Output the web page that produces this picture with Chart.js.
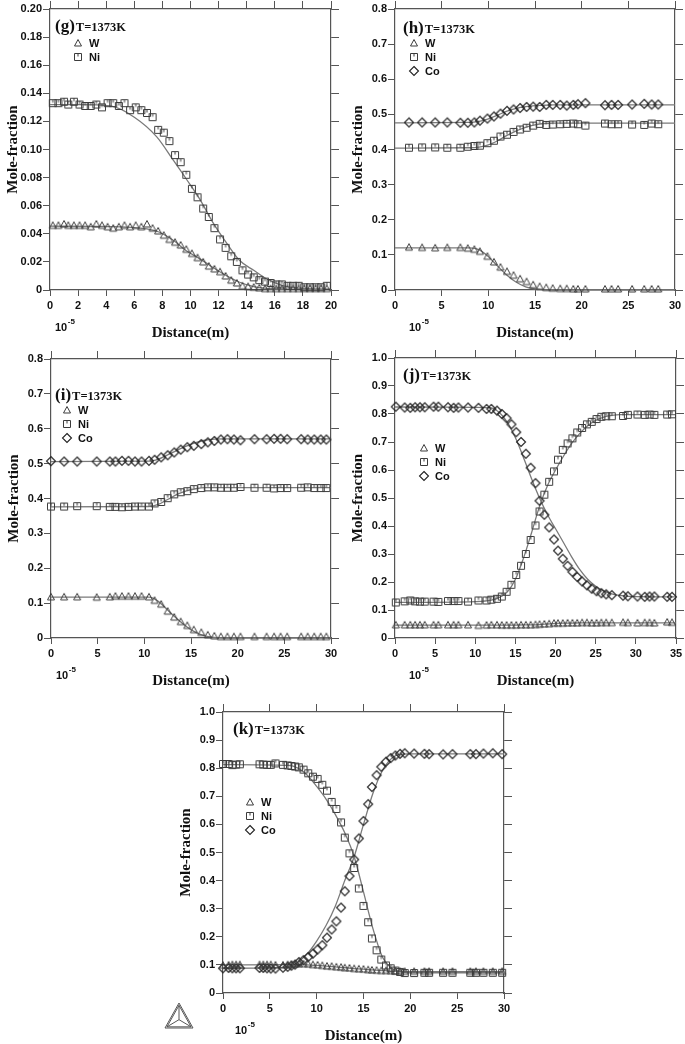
<!DOCTYPE html>
<html>
<head>
<meta charset="utf-8">
<script src="https://cdn.jsdelivr.net/npm/chart.js@4.4.1/dist/chart.umd.min.js"></script>
<style>
html, body { margin: 0; padding: 0; background: #fff; width: 685px; height: 1044px; overflow: hidden; position: relative; }
canvas { position: absolute; }
</style>
</head>
<body>
<canvas id="cg"></canvas>
<canvas id="ch"></canvas>
<canvas id="ci"></canvas>
<canvas id="cj"></canvas>
<canvas id="ck"></canvas>
<script>
// ---- (g) W / Ni ----
const g_dist = [0.2, 0.6, 1.0, 1.3, 1.7, 2.1, 2.5, 2.9, 3.3, 3.7, 4.1, 4.5, 4.9, 5.3, 5.7, 6.1, 6.5, 6.9, 7.3, 7.7, 8.1, 8.5, 8.9, 9.3, 9.7, 10.1, 10.5, 10.9, 11.3, 11.7, 12.1, 12.5, 12.9, 13.3, 13.7, 14.1, 14.5, 14.9, 15.3, 15.7, 16.1, 16.5, 16.9, 17.3, 17.7, 18.1, 18.5, 18.9, 19.3, 19.7];
const g_Ni = [.133, .133, .134, .132, .134, .132, .131, .131, .132, .130, .133, .133, .131, .133, .128, .130, .128, .126, .123, .114, .112, .106, .096, .091, .082, .072, .066, .058, .052, .044, .036, .030, .024, .020, .014, .011, .009, .007, .006, .005, .004, .004, .003, .003, .003, .002, .002, .002, .002, .003];
const g_W = [.046, .046, .047, .046, .046, .046, .046, .045, .047, .046, .045, .044, .045, .046, .045, .046, .045, .047, .044, .042, .039, .036, .034, .032, .029, .026, .023, .020, .017, .015, .013, .010, .007, .005, .003, .0025, .002, .0015, .001, .001, .001, .001, .001, .001, .001, .001, .001, .001, .001, .001];
const g_fitNiX = [0, 2, 4.3, 6, 7.6, 8.8, 9.7, 10.7, 11.6, 12.6, 13.5, 14.5, 15.4, 16.6, 17.8, 20];
const g_fitNi = [.132, .132, .131, .123, .109, .092, .079, .064, .048, .033, .021, .014, .008, .003, .0014, .0005];
const g_fitWX = [0, 4, 6.9, 7.8, 8.8, 9.7, 10.7, 11.6, 12.6, 13.5, 14.5, 15.4, 17, 20];
const g_fitW = [.0454, .0452, .0435, .0411, .0352, .028, .022, .016, .010, .0055, .0024, .0012, .0005, .0002];

// ---- (h) W / Ni / Co ----
const h_dist = [1.5, 2.9, 4.3, 5.6, 7.0, 7.8, 8.5, 9.1, 9.9, 10.6, 11.3, 12.0, 12.7, 13.4, 14.1, 14.8, 15.5, 16.2, 16.9, 17.7, 18.4, 19.1, 19.6, 20.4, 22.5, 23.2, 23.9, 25.4, 26.7, 27.5, 28.2];
const h_W = [.122, .121, .120, .121, .121, .119, .116, .110, .096, .080, .065, .053, .042, .032, .024, .015, .010, .007, .005, .004, .004, .003, .003, .003, .003, .003, .003, .003, .003, .003, .003];
const h_Ni = [.405, .406, .406, .405, .405, .408, .410, .411, .418, .425, .437, .442, .450, .457, .462, .468, .473, .470, .471, .472, .473, .474, .472, .468, .474, .472, .472, .471, .470, .474, .472];
const h_Co = [.477, .477, .477, .477, .476, .476, .477, .482, .488, .494, .502, .510, .514, .518, .521, .522, .521, .527, .527, .527, .525, .527, .529, .532, .526, .527, .527, .528, .530, .528, .528];
const h_fitX = [0, 8, 9, 10, 11, 12, 13, 14, 15, 16, 17, 18, 20, 30];
const h_fitW = [.120, .120, .115, .095, .068, .042, .022, .009, .003, .001, 0, 0, 0, 0];
const h_fitNi = [.404, .405, .407, .413, .425, .440, .453, .463, .470, .474, .475, .475, .475, .475];
const h_fitCo = [.476, .477, .480, .487, .498, .509, .517, .522, .525, .526, .527, .527, .527, .527];

// ---- (i) W / Ni / Co ----
const i_dist = [0, 1.4, 2.8, 4.9, 6.3, 6.9, 7.6, 8.3, 9.0, 9.7, 10.5, 11.1, 11.8, 12.5, 13.2, 13.9, 14.6, 15.3, 16.1, 16.8, 17.5, 18.2, 18.9, 19.6, 20.3, 21.8, 23.1, 23.9, 24.6, 25.3, 26.8, 27.5, 28.2, 28.9, 29.5];
const i_W = [.118, .118, .118, .117, .118, .120, .120, .120, .120, .120, .118, .108, .097, .077, .060, .047, .036, .024, .016, .009, .006, .004, .004, .004, .004, .004, .004, .004, .004, .004, .004, .004, .004, .004, .004];
const i_Ni = [.377, .377, .378, .378, .376, .376, .375, .376, .377, .377, .377, .386, .390, .401, .412, .418, .421, .427, .430, .432, .432, .431, .431, .431, .433, .431, .431, .429, .430, .430, .431, .432, .430, .430, .430];
const i_Co = [.507, .506, .506, .506, .506, .506, .508, .508, .506, .506, .508, .511, .518, .524, .532, .540, .547, .551, .556, .561, .565, .569, .570, .569, .567, .570, .570, .571, .571, .570, .570, .569, .569, .569, .569];
const i_fitX = [0, 10.5, 11.5, 12.5, 13.5, 14.5, 15.5, 16.5, 17.5, 18.5, 30];
const i_fitW = [.117, .117, .105, .080, .055, .033, .016, .006, .002, 0, 0];
const i_fitNi = [.376, .377, .383, .397, .412, .422, .428, .431, .431, .431, .431];
const i_fitCo = [.506, .507, .513, .525, .538, .550, .560, .567, .570, .571, .571];

// ---- (j) W / Ni / Co ----
const j_dist = [0.1, 1.2, 1.9, 2.5, 3.1, 3.7, 4.8, 5.4, 6.6, 7.3, 7.9, 9.1, 10.4, 11.4, 12.0, 12.7, 13.3, 13.9, 14.5, 15.1, 15.7, 16.3, 16.9, 17.5, 18.0, 18.6, 19.2, 19.8, 20.3, 20.9, 21.5, 22.1, 22.7, 23.3, 23.9, 24.5, 25.1, 25.7, 26.3, 27.0, 28.4, 29.0, 30.2, 31.1, 31.7, 32.3, 33.9, 34.5];
const j_W = [.047, .047, .047, .047, .047, .047, .047, .047, .047, .047, .047, .047, .045, .046, .047, .047, .046, .046, .046, .046, .047, .047, .047, .048, .049, .050, .051, .053, .053, .053, .054, .054, .054, .055, .055, .054, .054, .055, .055, .055, .056, .055, .054, .055, .055, .054, .057, .056];
const j_Ni = [.127, .131, .134, .131, .130, .130, .130, .129, .132, .132, .132, .130, .134, .134, .137, .140, .148, .165, .190, .225, .258, .300, .350, .402, .452, .512, .558, .595, .637, .672, .695, .713, .734, .750, .763, .772, .782, .790, .792, .792, .793, .797, .798, .797, .798, .797, .798, .799];
const j_Co = [.826, .823, .822, .824, .824, .824, .826, .826, .824, .822, .823, .823, .822, .818, .818, .812, .800, .785, .763, .735, .700, .658, .608, .553, .490, .440, .395, .352, .312, .283, .258, .236, .218, .202, .188, .176, .167, .160, .156, .153, .151, .149, .148, .147, .148, .148, .147, .147];
const j_fitX = [0, 10, 12, 13, 14, 15, 16, 17, 18, 19, 20, 21, 22, 23, 24, 25, 26, 27, 28, 29, 35];
const j_fitW = [.046, .046, .046, .046, .046, .046, .047, .047, .048, .050, .052, .053, .053, .054, .054, .054, .054, .054, .054, .054, .054];
const j_fitNi = [.127, .130, .135, .145, .165, .210, .285, .375, .470, .545, .600, .650, .695, .730, .758, .777, .789, .795, .798, .798, .798];
const j_fitCo = [.825, .824, .822, .805, .770, .715, .645, .570, .500, .440, .390, .340, .290, .245, .210, .185, .168, .158, .152, .149, .147];

// ---- (k) W / Ni / Co ----
const k_dist = [0, 0.6, 1.0, 1.4, 1.8, 3.9, 4.3, 4.7, 5.1, 5.6, 6.4, 6.9, 7.3, 7.7, 8.1, 8.6, 9.1, 9.6, 10.1, 10.6, 11.1, 11.6, 12.1, 12.6, 13.0, 13.5, 14.0, 14.5, 15.0, 15.5, 15.9, 16.4, 16.9, 17.4, 17.9, 18.4, 18.9, 19.4, 20.4, 21.5, 22.0, 23.5, 24.5, 26.4, 27.0, 27.8, 28.8, 29.8];
const k_W = [.099, .100, .101, .101, .101, .101, .101, .101, .101, .100, .100, .101, .102, .103, .104, .104, .103, .101, .100, .098, .096, .095, .093, .092, .090, .089, .087, .086, .085, .083, .082, .081, .080, .080, .079, .078, .077, .077, .077, .077, .077, .077, .077, .077, .077, .077, .077, .077];
const k_Ni = [.815, .815, .811, .813, .814, .814, .813, .812, .812, .817, .812, .810, .808, .806, .803, .795, .782, .770, .762, .741, .720, .680, .655, .607, .553, .497, .445, .372, .310, .252, .194, .152, .119, .098, .088, .080, .075, .071, .071, .072, .072, .072, .072, .072, .072, .072, .072, .072];
const k_Co = [.088, .089, .088, .088, .088, .089, .089, .088, .087, .087, .090, .093, .097, .101, .110, .117, .128, .140, .155, .170, .197, .226, .255, .304, .362, .416, .475, .550, .612, .672, .733, .775, .805, .823, .836, .845, .851, .853, .852, .851, .850, .849, .850, .850, .850, .852, .853, .850];
const k_fitX = [0, 7, 8, 9, 10, 11, 12, 13, 14, 15, 16, 17, 18, 19, 20, 30];
const k_fitW = [.100, .101, .101, .100, .098, .096, .093, .090, .087, .085, .082, .080, .078, .077, .076, .076];
const k_fitNi = [.813, .810, .800, .775, .735, .690, .635, .570, .485, .360, .230, .130, .088, .075, .072, .072];
const k_fitCo = [.088, .092, .110, .140, .185, .240, .310, .400, .485, .600, .710, .790, .835, .850, .851, .851];

const INK = '#3c3c3c';
const FIT = '#7a7a7a';

// open markers drawn once on small canvases, used as point styles
function marker(kind) {
    const c = document.createElement('canvas');
    c.width = 12; c.height = 12;
    const x = c.getContext('2d');
    x.strokeStyle = kind === 'dia' ? '#222' : INK;
    x.lineWidth = kind === 'dia' ? 1.1 : 1;
    x.beginPath();
    if (kind === 'tri') {
        x.moveTo(6, 2.5); x.lineTo(2.5, 9); x.lineTo(9.5, 9); x.closePath();
    } else if (kind === 'sq') {
        x.rect(2.5, 2.5, 7, 7);
        x.moveTo(6, 3); x.lineTo(6, 5.5);
    } else {
        x.moveTo(6, 1.5); x.lineTo(10.5, 6); x.lineTo(6, 10.5); x.lineTo(1.5, 6); x.closePath();
    }
    x.stroke();
    return c;
}
const MK = { W: marker('tri'), Ni: marker('sq'), Co: marker('dia') };

function pts(xs, ys) {
    return xs.map((x, i) => ({ x: x, y: ys[i] }));
}

function scales(ax) {
    const tickFont = { family: 'Liberation Sans', size: 11, weight: 'bold' };
    const titleFont = { family: 'Liberation Serif', size: 15, weight: 'bold' };
    const grid = len => ({ drawOnChartArea: false, color: '#555', lineWidth: 1, tickLength: len });
    const border = { display: true, color: '#555', width: 1.2 };
    return {
        x: {
            type: 'linear', position: 'bottom', min: 0, max: ax.xmax,
            grid: grid(6), border: border,
            ticks: { stepSize: ax.xstep, font: tickFont, color: '#111', padding: 3, maxRotation: 0, autoSkip: false },
            title: { display: true, text: 'Distance(m)', font: titleFont, color: '#111', padding: { top: 4, bottom: 4 } },
            afterFit: s => { s.height = 56; }
        },
        x2: {
            type: 'linear', position: 'top', min: 0, max: ax.xmax,
            grid: grid(8), border: border,
            ticks: { stepSize: ax.xstep, display: false },
            afterFit: s => { s.height = 9; }
        },
        y: {
            type: 'linear', position: 'left', min: 0, max: ax.ymax,
            grid: grid(7), border: border,
            ticks: { stepSize: ax.ystep, font: tickFont, color: '#111', padding: 1,
                callback: v => Math.abs(v) < 1e-9 ? '0' : v.toFixed(ax.ydec) },
            title: { display: true, text: 'Mole-fraction', font: titleFont, color: '#111', padding: { top: 4, bottom: 4 } },
            afterFit: s => { s.width = 50; }
        },
        y2: {
            type: 'linear', position: 'right', min: 0, max: ax.ymax,
            grid: grid(8), border: border,
            ticks: { stepSize: ax.ystep, display: false },
            afterFit: s => { s.width = 10; }
        }
    };
}

// labels, legend, 10^-5 note (and the logo on panel k)
function decoPlugin(p) {
    return {
        id: 'deco',
        afterDraw(chart) {
            const ctx = chart.ctx;
            const a = chart.chartArea;
            ctx.save();
            ctx.fillStyle = '#111';
            ctx.textBaseline = 'alphabetic';
            ctx.textAlign = 'left';
            const lx = a.left + p.lab[0], ly = a.top + p.lab[1] + 6;
            ctx.font = 'bold 17px "Liberation Serif"';
            ctx.fillText('(' + p.letter + ')', lx, ly);
            const w = ctx.measureText('(' + p.letter + ')').width;
            ctx.font = 'bold 12.5px "Liberation Serif"';
            ctx.fillText('T=1373K', lx + w + 1, ly);

            ctx.textBaseline = 'middle';
            ctx.font = 'bold 11px "Liberation Sans"';
            p.names.forEach((n, idx) => {
                const mx = a.left + p.leg[0], my = a.top + p.leg[1] + idx * 14;
                ctx.drawImage(MK[n], mx - 6, my - 6);
                ctx.fillText(n, mx + 11, my + 0.5);
            });

            const tx = a.left + p.ten, ty = a.bottom + 38;
            ctx.font = 'bold 11px "Liberation Sans"';
            ctx.fillText('10', tx, ty);
            const tw = ctx.measureText('10').width;
            ctx.font = 'bold 8px "Liberation Sans"';
            ctx.fillText('-5', tx + tw + 0.5, ty - 6);

            if (p.logo) {
                const bx = a.left, by = a.bottom;
                const A = [bx - 44, by + 10], B = [bx - 58, by + 35], C = [bx - 30, by + 35];
                const G = [(A[0] + B[0] + C[0]) / 3, (A[1] + B[1] + C[1]) / 3];
                ctx.strokeStyle = '#555';
                ctx.lineWidth = 1;
                [1, 0.86].forEach(f => {
                    ctx.beginPath();
                    [A, B, C].forEach((v, q) => {
                        const X = G[0] + (v[0] - G[0]) * f, Y = G[1] + (v[1] - G[1]) * f;
                        if (q === 0) ctx.moveTo(X, Y); else ctx.lineTo(X, Y);
                    });
                    ctx.closePath();
                    ctx.stroke();
                });
                [A, B, C].forEach(v => {
                    ctx.beginPath();
                    ctx.moveTo(G[0], G[1]);
                    ctx.lineTo(G[0] + (v[0] - G[0]) * 0.86, G[1] + (v[1] - G[1]) * 0.86);
                    ctx.stroke();
                });
            }
            ctx.restore();
        }
    };
}

function panel(id, box, ax, series, fits, p) {
    const extra = box.extra || 0;
    const cv = document.getElementById(id);
    cv.width = (box.R - box.L) + 60 + extra;
    cv.height = (box.B - box.T) + 65;
    cv.style.left = (box.L - 50 - extra) + 'px';
    cv.style.top = (box.T - 9) + 'px';

    const datasets = [];
    series.forEach(s => datasets.push({
        label: s.name,
        data: pts(s.x, s.y),
        pointStyle: MK[s.name],
        pointRadius: 5,
        showLine: false,
        clip: false
    }));
    fits.forEach(f => datasets.push({
        label: 'fit',
        data: pts(f.x, f.y),
        showLine: true,
        borderColor: FIT,
        borderWidth: 1.3,
        pointRadius: 0,
        cubicInterpolationMode: 'monotone',
        fill: false,
        clip: false
    }));

    return new Chart(cv.getContext('2d'), {
        type: 'scatter',
        data: { datasets: datasets },
        options: {
            responsive: false,
            animation: false,
            devicePixelRatio: 1,
            layout: { padding: { left: extra, top: 0, right: 0, bottom: 0 } },
            plugins: { legend: { display: false }, tooltip: { enabled: false } },
            scales: scales(ax)
        },
        plugins: [decoPlugin(p)]
    });
}

panel('cg', { L: 50, T: 9, R: 331, B: 290 },
    { xmax: 20, xstep: 2, ymax: 0.2, ystep: 0.02, ydec: 2 },
    [{ name: 'W', x: g_dist, y: g_W }, { name: 'Ni', x: g_dist, y: g_Ni }],
    [{ x: g_fitWX, y: g_fitW }, { x: g_fitNiX, y: g_fitNi }],
    { letter: 'g', lab: [5, 16], leg: [28, 34], names: ['W', 'Ni'], ten: 5 });

panel('ch', { L: 395, T: 9, R: 675, B: 290 },
    { xmax: 30, xstep: 5, ymax: 0.8, ystep: 0.1, ydec: 1 },
    [{ name: 'W', x: h_dist, y: h_W }, { name: 'Ni', x: h_dist, y: h_Ni }, { name: 'Co', x: h_dist, y: h_Co }],
    [{ x: h_fitX, y: h_fitW }, { x: h_fitX, y: h_fitNi }, { x: h_fitX, y: h_fitCo }],
    { letter: 'h', lab: [8, 18], leg: [19, 34], names: ['W', 'Ni', 'Co'], ten: 14 });

panel('ci', { L: 51, T: 359, R: 331, B: 638 },
    { xmax: 30, xstep: 5, ymax: 0.8, ystep: 0.1, ydec: 1 },
    [{ name: 'W', x: i_dist, y: i_W }, { name: 'Ni', x: i_dist, y: i_Ni }, { name: 'Co', x: i_dist, y: i_Co }],
    [{ x: i_fitX, y: i_fitW }, { x: i_fitX, y: i_fitNi }, { x: i_fitX, y: i_fitCo }],
    { letter: 'i', lab: [4, 35], leg: [16, 51], names: ['W', 'Ni', 'Co'], ten: 5 });

panel('cj', { L: 395, T: 358, R: 676, B: 638 },
    { xmax: 35, xstep: 5, ymax: 1.0, ystep: 0.1, ydec: 1 },
    [{ name: 'W', x: j_dist, y: j_W }, { name: 'Ni', x: j_dist, y: j_Ni }, { name: 'Co', x: j_dist, y: j_Co }],
    [{ x: j_fitX, y: j_fitW }, { x: j_fitX, y: j_fitNi }, { x: j_fitX, y: j_fitCo }],
    { letter: 'j', lab: [8, 16], leg: [29, 90], names: ['W', 'Ni', 'Co'], ten: 14 });

panel('ck', { L: 223, T: 712, R: 504, B: 993, extra: 16 },
    { xmax: 30, xstep: 5, ymax: 1.0, ystep: 0.1, ydec: 1 },
    [{ name: 'W', x: k_dist, y: k_W }, { name: 'Ni', x: k_dist, y: k_Ni }, { name: 'Co', x: k_dist, y: k_Co }],
    [{ x: k_fitX, y: k_fitW }, { x: k_fitX, y: k_fitNi }, { x: k_fitX, y: k_fitCo }],
    { letter: 'k', lab: [10, 16], leg: [27, 90], names: ['W', 'Ni', 'Co'], ten: 12, logo: true });
</script>
</body>
</html>
